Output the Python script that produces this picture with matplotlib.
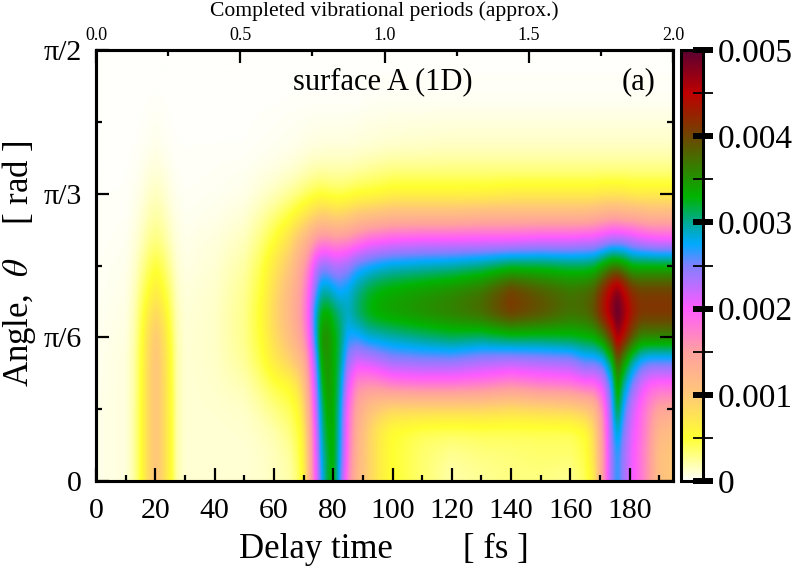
import numpy as np
import matplotlib
matplotlib.use("Agg")
import matplotlib.pyplot as plt
from matplotlib.colors import LinearSegmentedColormap

plt.rcParams['font.family'] = ['Liberation Serif', 'DejaVu Serif']
plt.rcParams['mathtext.fontset'] = 'stix'

# delay time (fs) of each column below
delay_fs = [0, 10, 13, 15, 17.5, 20, 22.5, 25, 27, 30, 40, 50, 55, 60, 65, 68, 70, 72, 74, 76, 78,
            80, 82, 85, 88, 92, 96, 100, 110, 120, 130, 140, 150, 160, 165, 168, 171, 174, 176,
            178, 181, 184, 187, 190, 195]
# angle (degrees) of each entry in a column
angle_deg = [0, 5, 10, 15, 20, 25, 30, 35, 40, 45, 50, 55, 60, 65, 70, 80, 90]
# read-off values in units of 1e-4, one row per delay
values_e4 = [
    [.5, .5, .5, .5, .4, .4, .3, .3, .2, .2, .1, .1, .1, 0, 0, 0, 0],
    [.8, .8, .8, .8, .8, .8, .7, .6, .5, .4, .3, .2, .1, .1, 0, 0, 0],
    [2.5, 2.5, 2.5, 2.5, 2.4, 2.4, 2.2, 2, 1.6, 1.2, .9, .6, .4, .2, .1, 0, 0],
    [5, 5, 5, 5, 5, 4.9, 4.6, 4, 3.2, 2.3, 1.5, 1, .6, .4, .2, 0, 0],
    [8.5, 8.5, 8.5, 8.5, 8.5, 8.5, 8, 6.8, 5, 3.8, 2.6, 1.8, 1.2, .7, .3, .1, 0],
    [10.5, 10.5, 10.5, 10.5, 10.5, 10.5, 10, 8.5, 6.5, 4.8, 3.2, 2.2, 1.5, .9, .5, .1, 0],
    [8.5, 8.5, 8.5, 8.5, 8.5, 8.5, 8, 6.8, 5, 3.8, 2.6, 1.8, 1.2, .7, .3, .1, 0],
    [5.5, 5.5, 5.5, 5.5, 5.4, 5.2, 4.8, 4, 3.2, 2.3, 1.5, 1, .6, .4, .2, 0, 0],
    [2, 2, 2, 2, 2, 2, 1.9, 1.7, 1.4, 1.1, .8, .6, .4, .2, .1, 0, 0],
    [1, 1, 1, 1, 1, 1, 1, .9, .8, .6, .5, .3, .2, .1, .1, 0, 0],
    [1, 1, 1, 1.1, 1.2, 1.3, 1.3, 1.3, 1.2, 1, .8, .5, .3, .2, .1, 0, 0],
    [1, 1, 1.1, 1.3, 1.8, 2.5, 2.8, 2.8, 2.6, 2.2, 1.6, 1, .5, .3, .1, 0, 0],
    [1.2, 1.2, 1.4, 2, 3, 4.2, 4.8, 5, 4.6, 4, 3, 2, 1, .5, .2, .05, 0],
    [1.5, 1.6, 1.9, 3, 4.5, 6.8, 8, 8.5, 8, 7, 5.2, 3.3, 1.6, .7, .3, .05, 0],
    [2, 2.2, 3, 4, 5.5, 9, 11, 12, 11.5, 10, 8, 5, 2.4, 1, .4, .1, 0],
    [3.5, 4, 4.5, 5.5, 7.5, 11, 13.5, 14.5, 14, 13, 10.5, 6.5, 3, 1.3, .5, .1, 0],
    [6, 6.2, 7, 8.5, 10.5, 13, 16, 17, 16.5, 15, 12, 7.5, 3.6, 1.5, .6, .1, 0],
    [13, 13, 13.5, 14.5, 16, 18, 20, 21, 20, 18, 14, 8.5, 4, 1.8, .7, .1, 0],
    [20, 20.5, 21, 22, 23, 25, 28, 28.5, 25, 22, 16, 9.5, 4.5, 2, .7, .1, 0],
    [27, 28, 29, 30, 32, 34, 35, 33, 29, 24, 17, 10, 4.8, 2, .8, .1, 0],
    [32, 32, 33, 34, 35, 35, 35.5, 33.5, 29, 24, 17, 10, 4.5, 2, .8, .1, 0],
    [33.5, 33.5, 33.5, 33.5, 33.5, 33.5, 33.5, 32, 28, 23, 16.5, 9.5, 4.3, 2, .8, .1, 0],
    [27, 28, 28.5, 29, 30, 31, 31.5, 30.5, 27, 23, 16.5, 9.5, 4.2, 2, .8, .1, 0],
    [17, 18, 18.5, 19, 21, 24, 27, 29, 28, 24, 17, 10, 4.5, 2, .8, .1, 0],
    [12, 12.5, 13, 14, 16.5, 21.5, 27, 31, 30, 26, 18, 11, 5, 2.2, .9, .1, 0],
    [9, 9, 9, 11, 16, 22, 28.5, 33, 32, 27, 19.5, 11.5, 5.2, 2.5, 1, .2, 0],
    [6.5, 6.5, 6.5, 9.5, 16.5, 23, 29, 34, 33, 28, 20, 12, 5.5, 2.8, 1.1, .2, 0],
    [5, 5, 5, 8.5, 17.5, 24, 29.5, 34.5, 33.5, 28.5, 20.5, 12.5, 6, 3, 1.2, .2, 0],
    [3.5, 3.5, 4, 8.5, 18, 24.5, 30.5, 35.5, 34.5, 29, 21, 12.5, 6, 3, 1.3, .2, 0],
    [2, 2.5, 3.8, 8.5, 18, 24.5, 31.5, 36.5, 35.5, 29.5, 21, 12.5, 6, 3, 1.4, .2, 0],
    [2.5, 3, 4, 8.5, 17.5, 23.5, 31, 38, 37, 30.5, 21, 13, 6, 3, 1.4, .2, 0],
    [3, 3.2, 4, 8, 16.5, 23, 32, 41, 40.5, 32, 21, 13, 6.5, 3, 1.4, .2, 0],
    [3, 3.5, 4, 8.5, 17.5, 23.5, 32, 39.5, 38.5, 32, 21.5, 13, 6.5, 3, 1.4, .2, 0],
    [2.5, 3.5, 4, 9, 18, 24, 32.5, 37.5, 37, 31.5, 21.5, 13, 6.5, 3, 1.4, .2, 0],
    [4, 4.5, 5, 10, 19, 26, 33, 38, 37.5, 31.5, 22, 13, 6.5, 3, 1.4, .2, 0],
    [6.5, 7.5, 8, 11.5, 19, 26, 33.5, 39.5, 38.5, 32, 22, 13.5, 6.5, 3, 1.4, .2, 0],
    [15, 15, 15.5, 17, 21, 27, 36, 43.5, 42, 34, 23, 14, 7, 3, 1.4, .2, 0],
    [24, 24, 24.5, 25.5, 27, 32, 41, 47.5, 46, 36, 24, 14.5, 7, 3, 1.4, .2, 0],
    [27, 27, 29, 33, 35, 39, 47, 50, 48, 36, 24, 14.5, 7, 3, 1.4, .2, 0],
    [24, 24, 25, 27, 30, 35, 44, 47.5, 45, 35, 24, 14, 7, 3, 1.4, .2, 0],
    [20.5, 20.5, 21, 22, 25, 30, 39, 43.5, 41.5, 33, 23, 14, 6.5, 3, 1.4, .2, 0],
    [18, 18, 18.5, 19, 21.5, 27, 36, 41.5, 40.5, 33, 22, 13.5, 6.5, 3, 1.4, .2, 0],
    [15, 15, 15.5, 16.5, 19.5, 26, 36, 41.5, 40.5, 33, 21.5, 13, 6.5, 3, 1.4, .2, 0],
    [11, 11, 12, 14.5, 19, 26, 36, 41.5, 40.5, 33, 21, 13, 6.5, 3, 1.4, .2, 0],
    [10, 10, 11, 14, 19, 26, 36, 41.5, 40.5, 33, 21, 13, 6.5, 3, 1.4, .2, 0],
]

cmap_levels = [0, .0005, .001, .0015, .002, .0025, .00275, .003, .0033, .004, .0045, .005]
cmap_colors = ['#fffffb', '#ffff30', '#ffc878', '#ffa0a0', '#ff5aff', '#8080ff', '#00aaff',
               '#00aa96', '#00b400', '#6e4600', '#be0000', '#5a0032']
cbar_major = [0, .001, .002, .003, .004, .005]
cbar_labels = ['0', '0.001', '0.002', '0.003', '0.004', '0.005']
cbar_minor = [.0005, .0015, .0025, .0035, .0045]
x_major = list(range(0, 181, 20))
x_minor = list(range(10, 191, 20))
y_major = [0, 30, 60, 90]
y_labels = ['0', 'π/6', 'π/3', 'π/2']
y_minor = [15, 45, 75]
top_major = [0, .5, 1, 1.5, 2]
top_labels = ['0.0', '0.5', '1.0', '1.5', '2.0']
top_minor = [.25, .75, 1.25, 1.75]

# resample the read-off table onto a fine regular grid for a smooth image
t_arr, a_arr = np.array(delay_fs), np.array(angle_deg)
Z = np.array(values_e4) * 1e-4
t_f = np.arange(0, 194.6, .5)
a_f = np.arange(0, 90.01, .5)
Z1 = np.array([np.interp(t_f, t_arr, Z[:, j]) for j in range(Z.shape[1])])
Z2 = np.array([np.interp(a_f, a_arr, Z1[:, i]) for i in range(Z1.shape[1])]).T


def smooth(A, n, axis):
    k = np.bartlett(2 * n + 3)[1:-1]
    k = k / k.sum()
    pad = [(0, 0), (0, 0)]
    pad[axis] = (n, n)
    P = np.pad(A, pad, mode='edge')
    return np.apply_along_axis(lambda v: np.convolve(v, k, mode='valid'), axis, P)


Z3 = smooth(smooth(Z2, 2, 1), 6, 0)

W, H = 797, 568
fig = plt.figure(figsize=(W / 100, H / 100), dpi=100)
L, R, T, B = 96, 673, 50, 481
ax = fig.add_axes([L / W, 1 - B / H, (R - L) / W, (B - T) / H])
cm = LinearSegmentedColormap.from_list('k', [(v / .005, c) for v, c in zip(cmap_levels, cmap_colors)], N=512)
im = ax.imshow(Z3, origin='lower', aspect='auto', cmap=cm, vmin=0, vmax=.005,
               extent=[0, 194.6, 0, 90], interpolation='bilinear')
ax.set_xlim(0, 194.6)
ax.set_ylim(0, 90)
lw = 2.2
for s in ax.spines.values():
    s.set_linewidth(lw)
ax.set_xticks(x_major)
ax.set_xticks(x_minor, minor=True)
ax.set_yticks(y_major, y_labels)
ax.set_yticks(y_minor, minor=True)
ax.tick_params(axis='both', which='major', direction='in', length=9.5, width=1.6, labelsize=21.5, pad=12.5)
ax.tick_params(axis='both', which='minor', direction='in', length=4.5, width=1.6)
ax.tick_params(axis='y', which='both', right=True)
ax.tick_params(axis='y', which='major', labelsize=21.5, pad=10)

top = ax.twiny()
top.set_xlim(0, 2)
top.set_xticks(top_major, top_labels)
top.set_xticks(top_minor, minor=True)
top.tick_params(axis='x', which='major', direction='in', length=9.5, width=1.6, labelsize=13, pad=4)
top.tick_params(axis='x', which='minor', direction='in', length=4.5, width=1.6)
for s in top.spines.values():
    s.set_linewidth(lw)

fig.text(384 / W, 1 - 11 / H, 'Completed vibrational periods (approx.)', ha='center', va='center', fontsize=15.6)
fig.text(384 / W, 1 - 549 / H, 'Delay time        [ fs ]', ha='center', va='center', fontsize=25)
fig.text(19.5 / W, 1 - 264 / H, r'Angle,  $\theta$    [ rad ]', ha='center', va='center', rotation=90, fontsize=25)
fig.text(383 / W, 1 - 82 / H, 'surface A (1D)', ha='center', va='center', fontsize=22)
fig.text(639 / W, 1 - 82 / H, '(a)', ha='center', va='center', fontsize=22)

cax = fig.add_axes([681 / W, 1 - B / H, 22 / W, (B - T) / H])
cb = fig.colorbar(im, cax=cax)
cb.outline.set_linewidth(lw)
cb.set_ticks(cbar_major, labels=cbar_labels)
cb.set_ticks(cbar_minor, minor=True)
cax.tick_params(axis='y', which='major', direction='inout', length=15, width=4.3, labelsize=24, pad=3)
cax.tick_params(axis='y', which='minor', direction='inout', length=15, width=1.3)
cax.yaxis.set_ticks_position('right')

fig.savefig('out.png', dpi=100)
